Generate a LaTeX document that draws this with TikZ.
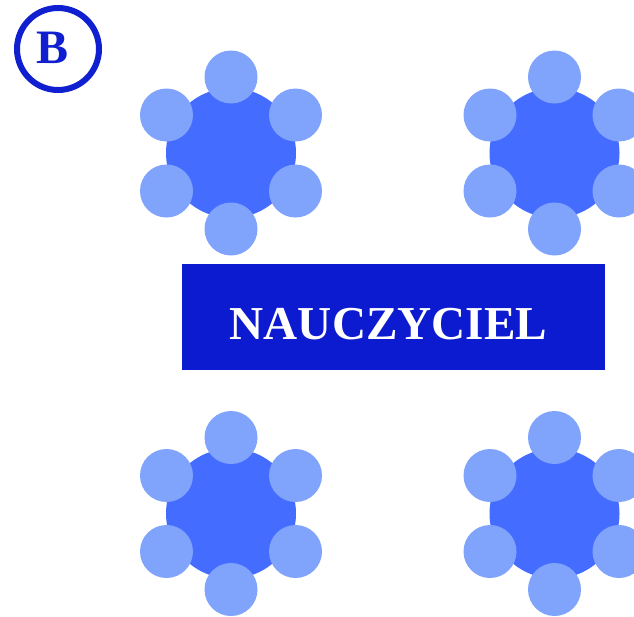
\documentclass[tikz,border=0pt]{standalone}
\usepackage{fontspec}
\setmainfont{Liberation Serif}
\usetikzlibrary{calc}
\definecolor{tablecol}{HTML}{446DFF}
\definecolor{chaircol}{HTML}{80A3FB}
\definecolor{boardcol}{HTML}{0D1BD0}
\definecolor{badgecol}{HTML}{1020D0}
\tikzset{
  tablebox/.style={circle, fill=tablecol, inner sep=0pt, outer sep=0pt, minimum size=130pt},
  chairbox/.style={circle, fill=chaircol, inner sep=0pt, outer sep=0pt, minimum size=53pt},
  boardbox/.style={rectangle, fill=boardcol, inner sep=0pt, minimum width=423pt, minimum height=106pt},
  labeltext/.style={text=white, font=\bfseries\fontsize{47.2}{50}\selectfont, inner sep=0pt},
  badgebox/.style={circle, draw=badgecol, line width=6pt, inner sep=0pt, minimum size=82pt},
  badgetext/.style={text=badgecol, font=\bfseries\fontsize{48}{50}\selectfont, inner sep=0pt}
}
\begin{document}
\begin{tikzpicture}[x=1pt,y=-1pt]
\useasboundingbox (0,0) rectangle (634,616);
\clip (0,0) rectangle (634,616);
\fill[white] (0,0) rectangle (634,616);
% badge
\node[badgebox] (badge) at (58,49) {};
\node[badgetext, anchor=base] (badgeL) at (53,63.5) {B};
% tables
\foreach \n/\cx/\cy in {t1/231/153, t2/554.5/153, t3/231/513.5, t4/554.5/513.5}{
  \node[tablebox] (\n) at (\cx,\cy) {};
  \node[chairbox] (\n c1) at ($(\n)+(0,-76)$) {};
  \node[chairbox] (\n c2) at ($(\n)+(-64.5,-38)$) {};
  \node[chairbox] (\n c3) at ($(\n)+(64.5,-38)$) {};
  \node[chairbox] (\n c4) at ($(\n)+(-64.5,38)$) {};
  \node[chairbox] (\n c5) at ($(\n)+(64.5,38)$) {};
  \node[chairbox] (\n c6) at ($(\n)+(0,76)$) {};
}
% teacher board
\node[boardbox] (board) at (393.5,317) {};
\node[labeltext, anchor=base] (label) at (388.5,339) {NAUCZYCIEL};
\end{tikzpicture}
\end{document}
